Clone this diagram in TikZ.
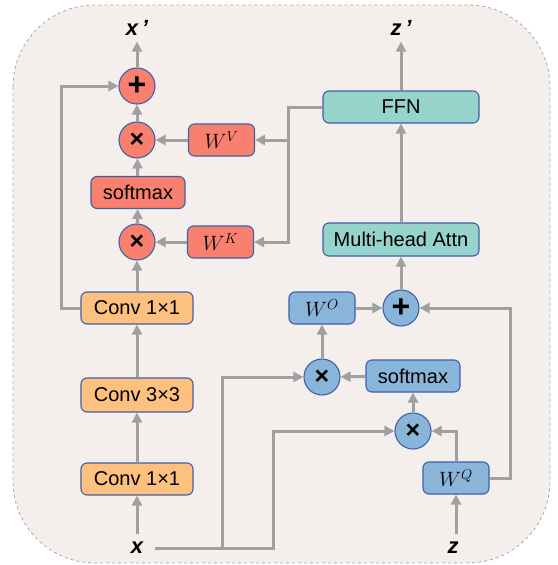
\documentclass[tikz,border=0pt]{standalone}
\usepackage{fontspec}
\setmainfont{Liberation Sans}
\usetikzlibrary{arrows.meta,calc}
\definecolor{bgc}{HTML}{F4EFEC}
\definecolor{framec}{HTML}{A8A8A8}
\definecolor{bord}{HTML}{3F5FA6}
\definecolor{redc}{HTML}{F9806E}
\definecolor{orac}{HTML}{FDC07F}
\definecolor{teac}{HTML}{95D3CB}
\definecolor{bluc}{HTML}{8AB5DA}
\definecolor{arrc}{HTML}{A0A0A0}
\tikzset{
  blk/.style={draw=bord, line width=1.1pt, rounded corners=6pt, inner sep=0pt,
    minimum height=32pt, font=\fontsize{20}{22}\selectfont},
  wbox/.style={blk, minimum width=66pt, font=\fontsize{21}{22}\selectfont},
  opc/.style={circle, draw=bord, line width=1.1pt, minimum size=36pt, inner sep=0pt},
  plussym/.style={font=\fontsize{32}{32}\selectfont\bfseries},
  timessym/.style={font=\fontsize{25}{25}\selectfont\bfseries},
  lbl/.style={inner sep=0pt, minimum width=36pt, minimum height=27pt,
    font=\fontsize{22}{22}\selectfont\bfseries\itshape},
  arr/.style={draw=arrc, line width=3pt, -{Triangle[length=10pt,width=10pt]}},
  ln/.style={draw=arrc, line width=3pt}
}
\begin{document}
\begin{tikzpicture}[x=1pt,y=-1pt]
\useasboundingbox (0,0) rectangle (557,565);
\draw[fill=bgc, draw=framec, dashed, line width=0.8pt, rounded corners=82pt] (13,5) rectangle (550,563);

% labels
\node[lbl] (xp) at (137,28) {x\,’};
\node[lbl] (zp) at (401,28) {z\,’};
\node[lbl] (xl) at (137,548) {x};
\node[lbl] (zl) at (453,548) {z};

% left branch
\node[opc, fill=redc, plussym] (p1) at (137,86) {+};
\node[opc, fill=redc, timessym] (t1) at (137,140) {×};
\node[wbox, fill=redc] (wv) at (221.5,140) {$W^{V}$};
\node[blk, fill=redc, minimum width=94pt] (sm1) at (138,192.5) {softmax};
\node[opc, fill=redc, timessym] (t2) at (137,242) {×};
\node[wbox, fill=redc] (wk) at (220.5,242) {$W^{K}$};
\node[blk, fill=orac, minimum width=112pt] (c1) at (137,308) {Conv 1×1};
\node[blk, fill=orac, minimum width=112pt, minimum height=34pt] (c3) at (137,395) {Conv 3×3};
\node[blk, fill=orac, minimum width=112pt] (c0) at (137,479) {Conv 1×1};

% right branch
\node[blk, fill=teac, minimum width=156pt] (ffn) at (401,107) {FFN};
\node[blk, fill=teac, minimum width=156pt, minimum height=33pt] (mha) at (401,239.5) {Multi-head Attn};
\node[wbox, fill=bluc] (wo) at (322,308) {$W^{O}$};
\node[opc, fill=bluc, plussym] (pb) at (401,308) {+};
\node[opc, fill=bluc, timessym] (tb1) at (322,377) {×};
\node[blk, fill=bluc, minimum width=94pt] (smb) at (413,376) {softmax};
\node[opc, fill=bluc, timessym] (tb2) at (413,431) {×};
\node[wbox, fill=bluc] (wq) at (456,478) {$W^{Q}$};

% junction coordinates
\coordinate (fb) at (61,308);
\coordinate (f1) at (288,107);
\coordinate (j1) at (222,548);
\coordinate (j2) at (273,548);
\coordinate (r1) at (510,478);

% left connectors
\draw[arr] (xl) -- (c0);
\draw[arr] (c0) -- (c3);
\draw[arr] (c3) -- (c1);
\draw[arr] (c1) -- (t2);
\draw[arr] (t2) -- (sm1);
\draw[arr] (sm1) -- (t1);
\draw[arr] (t1) -- (p1);
\draw[arr] (p1) -- (xp);
\draw[arr] (wv) -- (t1);
\draw[arr] (wk) -- (t2);
\draw[arr] (c1.west) -- (fb) |- (p1.west);
\draw[arr] (ffn.west) -- (f1) |- (wk.east);
\draw[arr] (f1 |- wv.east) -- (wv.east);

% right connectors
\draw[arr] (wq |- zl.north) -- (wq.south);
\draw[arr] (wq.north) |- (tb2.east);
\draw[arr] (wq.east) -- (r1) |- (pb.east);
\draw[arr] (tb2) -- (smb);
\draw[arr] (smb) -- (tb1);
\draw[arr] (tb1) -- (wo);
\draw[arr] (wo) -- (pb);
\draw[arr] (pb) -- (mha);
\draw[arr] (mha) -- (ffn);
\draw[arr] (ffn) -- (zp);
\draw[arr] (xl.east) -- (j2) |- (tb2.west);
\draw[arr] (j1) |- (tb1.west);
\end{tikzpicture}
\end{document}
